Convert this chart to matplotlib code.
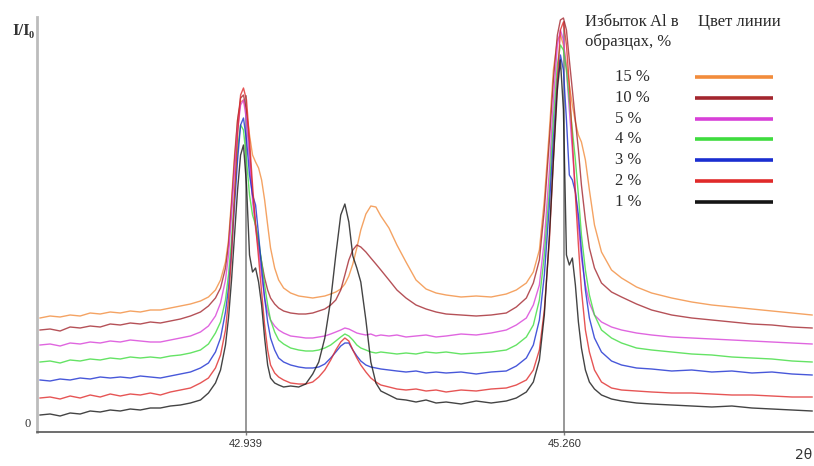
import numpy as np
import matplotlib
matplotlib.use("Agg")
import matplotlib.pyplot as plt

# Diffraction angle grid, 2θ (degrees)
two_theta = [
    41.443, 41.516, 41.589, 41.662, 41.735, 41.808, 41.881, 41.954, 42.027, 42.100,
    42.173, 42.246, 42.319, 42.392, 42.465, 42.538, 42.611, 42.669, 42.720, 42.757,
    42.793, 42.815, 42.837, 42.859, 42.881, 42.903, 42.924, 42.946, 42.968, 42.990,
    43.012, 43.034, 43.056, 43.078, 43.100, 43.121, 43.151, 43.180, 43.216, 43.267,
    43.326, 43.377, 43.428, 43.472, 43.516, 43.559, 43.596, 43.632, 43.662, 43.691,
    43.720, 43.749, 43.778, 43.815, 43.851, 43.888, 43.924, 43.983, 44.041, 44.107,
    44.180, 44.253, 44.326, 44.399, 44.508, 44.618, 44.727, 44.837, 44.910, 44.983,
    45.034, 45.078, 45.114, 45.151, 45.180, 45.209, 45.231, 45.253, 45.275, 45.296,
    45.318, 45.340, 45.362, 45.384, 45.413, 45.442, 45.479, 45.530, 45.603, 45.676,
    45.785, 45.895, 46.041, 46.187, 46.333, 46.479, 46.625, 46.771, 46.917, 47.063,
]

# Relative intensity I/I0 (arbitrary units, curves offset vertically)
i_15 = [
    114, 116, 115, 117, 116, 119, 118, 120, 119, 121,
    120, 122, 122, 124, 126, 128, 131, 135, 142, 152,
    170, 192, 232, 277, 312, 330, 332, 320, 297, 277,
    270, 264, 252, 232, 207, 184, 164, 152, 144, 139,
    136, 135, 134, 135, 136, 138, 140, 143, 148, 156,
    168, 184, 202, 218, 226, 225, 216, 204, 187, 170,
    152, 143, 139, 137, 135, 136, 135, 138, 142, 149,
    160, 182, 232, 302, 362, 392, 397, 387, 367, 347,
    327, 310, 297, 290, 272, 242, 207, 180, 162, 154,
    145, 139, 134, 130, 127, 125, 123, 121, 119, 117,
]
i_10 = [
    102, 103, 101, 105, 104, 106, 105, 108, 107, 109,
    108, 110, 109, 111, 113, 116, 120, 126, 134, 144,
    164, 187, 227, 272, 312, 334, 337, 322, 282, 237,
    207, 187, 170, 154, 142, 134, 128, 124, 121, 119,
    118, 118, 119, 121, 123, 127, 132, 142, 157, 172,
    182, 187, 185, 180, 174, 168, 162, 152, 142, 134,
    127, 123, 120, 118, 117, 116, 117, 119, 125, 134,
    149, 172, 222, 292, 352, 397, 412, 414, 402, 372,
    342, 312, 282, 247, 212, 184, 164, 149, 140, 135,
    128, 122, 117, 114, 112, 110, 108, 107, 105, 104,
]
i_5 = [
    87, 88, 86, 89, 88, 90, 89, 91, 90, 92,
    91, 90, 90, 92, 94, 96, 100, 106, 116, 129,
    152, 177, 217, 262, 302, 327, 332, 312, 272, 232,
    204, 182, 157, 134, 120, 112, 106, 102, 99, 96,
    95, 94, 94, 95, 96, 98, 100, 102, 104, 103,
    101, 99, 98, 97, 98, 96, 97, 96, 97, 95,
    96, 97, 95, 96, 98, 97, 99, 102, 107, 114,
    127, 147, 192, 262, 332, 387, 402, 392, 362, 322,
    282, 242, 207, 174, 147, 129, 117, 110, 105, 102,
    99, 97, 95, 94, 93, 92, 91, 90, 89, 88,
]
i_4 = [
    70, 71, 69, 72, 71, 73, 72, 74, 73, 75,
    74, 75, 74, 76, 77, 79, 82, 88, 99, 110,
    132, 157, 192, 237, 282, 307, 302, 272, 237, 217,
    207, 192, 170, 147, 127, 112, 100, 92, 88, 84,
    82, 81, 81, 82, 84, 87, 91, 95, 98, 96,
    92, 87, 84, 82, 80, 79, 80, 79, 78, 79,
    78, 80, 79, 80, 78, 79, 80, 82, 87, 95,
    107, 132, 177, 242, 312, 367, 387, 382, 362, 332,
    302, 272, 237, 197, 162, 137, 117, 102, 94, 89,
    84, 82, 80, 78, 77, 75, 74, 73, 71, 70,
]
i_3 = [
    52, 51, 53, 52, 54, 53, 55, 54, 55, 54,
    56, 55, 54, 56, 58, 60, 64, 69, 80, 94,
    120, 144, 180, 227, 272, 307, 314, 292, 257, 237,
    227, 197, 164, 134, 110, 94, 82, 74, 70, 67,
    65, 64, 64, 65, 68, 74, 80, 86, 89, 89,
    82, 76, 71, 67, 65, 64, 63, 62, 61, 60,
    61, 59, 60, 59, 60, 58, 60, 61, 66, 74,
    87, 112, 157, 227, 292, 352, 377, 362, 312, 257,
    252, 240, 217, 182, 142, 114, 94, 80, 71, 67,
    64, 63, 61, 62, 60, 61, 59, 60, 58, 57,
]
i_2 = [
    34, 35, 33, 36, 34, 37, 35, 38, 36, 38,
    37, 39, 37, 40, 42, 44, 49, 54, 64, 77,
    102, 132, 177, 237, 297, 337, 344, 332, 292, 247,
    207, 174, 140, 107, 82, 67, 59, 55, 52, 49,
    48, 48, 50, 55, 62, 72, 82, 90, 94, 91,
    82, 74, 67, 60, 54, 50, 47, 45, 43, 42,
    43, 41, 42, 40, 42, 41, 43, 44, 47, 52,
    62, 82, 122, 192, 272, 352, 402, 410, 387, 347,
    292, 237, 187, 142, 102, 80, 62, 50, 44, 42,
    41, 40, 39, 39, 38, 37, 37, 36, 35, 35,
]
i_1 = [
    17, 18, 16, 19, 18, 21, 20, 22, 21, 23,
    22, 24, 24, 26, 27, 29, 32, 39, 49, 62,
    87, 114, 152, 197, 242, 277, 287, 247, 177, 160,
    164, 150, 127, 94, 67, 54, 49, 47, 45, 46,
    45, 48, 58, 70, 94, 132, 177, 217, 228, 210,
    176, 164, 150, 112, 70, 49, 41, 37, 33, 32,
    30, 32, 29, 30, 28, 31, 29, 31, 34, 40,
    50, 72, 117, 197, 272, 342, 372, 322, 177, 167,
    174, 147, 110, 84, 62, 50, 43, 37, 33, 31,
    29, 28, 27, 26, 25, 26, 24, 23, 22, 21,
]

series_labels = ["15 %", "10 %", "5 %", "4 %", "3 %", "2 %", "1 %"]
series_values = [i_15, i_10, i_5, i_4, i_3, i_2, i_1]
series_colors = ["#F28C3C", "#A3262E", "#D840D8", "#3EDC3E", "#1A2ED0", "#E02A2A", "#151515"]

peak_positions = [42.939, 45.260]
peak_labels = ["42.939", "45.260"]

W, H = 814, 466
fig = plt.figure(figsize=(W / 100, H / 100), dpi=100)
fig.patch.set_facecolor("white")

ax = fig.add_axes([37 / W, 34 / H, 777 / W, 415 / H])
ax.set_xlim(41.421, 47.077)
ax.set_ylim(0, 415)
ax.patch.set_alpha(0)

# peak markers from zero up to the tallest curve
for p in peak_positions:
    top = max(np.interp(p, two_theta, v) for v in series_values)
    ax.plot([p, p], [0, top], color="#7c7c7c", lw=1.1, zorder=1.5)

draw_order = [0, 1, 2, 3, 4, 6, 5]
for k in draw_order:
    ax.plot(two_theta, series_values[k], color=series_colors[k], lw=1.0,
            alpha=0.8, zorder=2 + k * 0.01, solid_joinstyle="round")

for s in ["top", "right"]:
    ax.spines[s].set_visible(False)
ax.spines["left"].set_color("#bcbcbc")
ax.spines["left"].set_linewidth(2.0)
ax.spines["bottom"].set_color("#555555")
ax.spines["bottom"].set_linewidth(1.2)
ax.set_yticks([])
ax.set_xticks(peak_positions)
ax.set_xticklabels(peak_labels, family=["Liberation Sans Narrow", "Liberation Sans"],
                   fontsize=8, color="#333333")
ax.tick_params(axis="x", length=2, width=1, color="#7c7c7c", pad=3)

# overlay in pixel units for annotations and legend
ov = fig.add_axes([0, 0, 1, 1], zorder=5)
ov.set_xlim(0, W)
ov.set_ylim(H, 0)
ov.axis("off")
ov.patch.set_alpha(0)

serif = "Liberation Serif"
ov.text(12, 31, "I/I", fontsize=12, fontweight="bold", family=serif,
        color="#333333", ha="left", va="center")
ov.text(29, 36, "0", fontsize=7.5, fontweight="bold", family=serif,
        color="#333333", ha="left", va="center")
ov.text(28, 424, "0", fontsize=9, family=serif, color="#333333",
        ha="center", va="center")
ov.text(812, 455, "2θ", fontsize=10, family="DejaVu Sans", color="#333333",
        ha="right", va="center")

ov.text(585, 22, "Избыток Al в", fontsize=12, family=serif, color="#2a2a2a",
        ha="left", va="center")
ov.text(585, 42, "образцах, %", fontsize=12, family=serif, color="#2a2a2a",
        ha="left", va="center")
ov.text(698, 22, "Цвет линии", fontsize=12, family=serif, color="#2a2a2a",
        ha="left", va="center")

for k, (lab, col) in enumerate(zip(series_labels, series_colors)):
    y = 77 + k * 20.8
    ov.text(615, y, lab, fontsize=12, family=serif, color="#2a2a2a",
            ha="left", va="center")
    ov.plot([695, 773], [y, y], color=col, lw=2.6, solid_capstyle="butt")

fig.savefig("out.png", dpi=100)
